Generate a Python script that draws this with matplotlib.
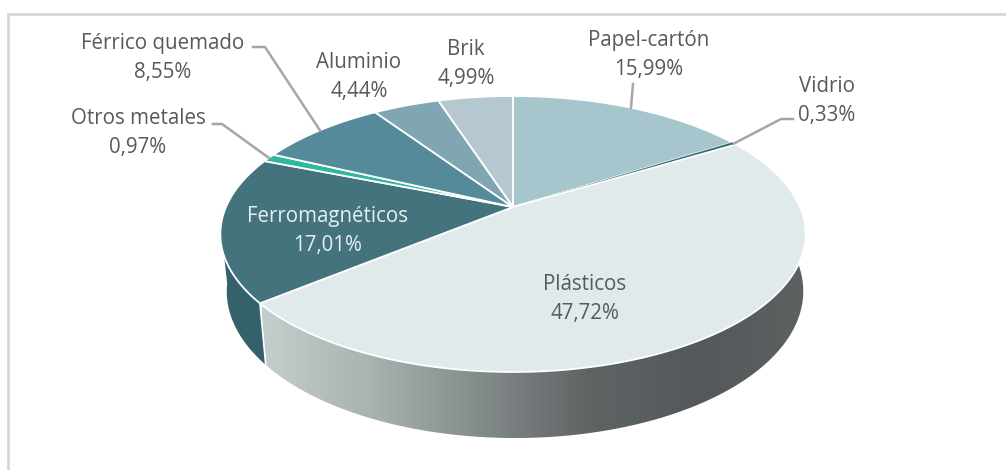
import numpy as np
import matplotlib.pyplot as plt
from matplotlib.colors import LinearSegmentedColormap
from matplotlib.patches import Polygon, Rectangle

# Clockwise from 12 o'clock
labels = ["Papel-cartón", "Vidrio", "Plásticos", "Ferromagnéticos",
          "Otros metales", "Férrico quemado", "Aluminio", "Brik"]
values = [15.99, 0.33, 47.72, 17.01, 0.97, 8.55, 4.44, 4.99]
colors = ["#a7c5cc", "#2f6a70", "#e0eaeb", "#44737e",
          "#2fb8a0", "#548a9a", "#7fa6b2", "#b5c7cf"]

# Label centres in pixels, and the elbow of the leader line if there is one
label_pos = [(649, 55), (827, 101), (585, 299), (328, 231),
             (138, 133), (163, 58), (359, 77), (466, 64)]
elbows = [(633, 84), (781, 119), None, None,
          (222, 124), (265, 47), None, None]
stubs = [0, 12, 0, 0, -9, -12, 0, 0]
text_colors = ["#595959", "#595959", "#595959", "#e6f0f0",
               "#595959", "#595959", "#595959", "#595959"]

wall_stops = ["#c4cecd", "#a8b2b1", "#848b8b", "#5f6465", "#53585a", "#5c6162"]
ferro_wall = "#34626c"

# Perspective disc: apex, radii and foreshortening
CX, CY = 513, 207
A, B, K = 287.0, 132.7, 0.1956
# lower rim of the wall
SX, SY, CY_LOW, DX_LOW = 0.985, 1.064, 262.5, 2

plt.rcParams["font.family"] = ["Open Sans", "DejaVu Sans"]


def rim(angle_deg, sx=1.0, sy=1.0, cy=CY, dx=0):
    t = np.radians(angle_deg)
    u, v = np.sin(t), np.cos(t)
    w = 1 + K * v
    return CX + dx + sx * A * u / w, cy - sy * B * v / w


def arc(a0, a1, **kw):
    angles = np.linspace(a0, a1, max(int(abs(a1 - a0) * 2), 2) + 1)
    return np.column_stack(rim(angles, **kw))


def wall(a0, a1):
    top = arc(a0, a1)
    low = arc(a0, a1, sx=SX, sy=SY, cy=CY_LOW, dx=DX_LOW)
    return np.vstack([top, low[::-1]])


fig = plt.figure(figsize=(10.06, 4.70), dpi=100)
ax = fig.add_axes([0, 0, 1, 1])

# only the top and left of the frame fall inside the picture
ax.add_patch(Rectangle((8, 13.5), 1100, 600, facecolor="white",
                       edgecolor="#d6d6d6", linewidth=2.0))

bounds = np.cumsum([0] + values) * 3.6

# side walls first, the top face covers whatever sticks out behind it
ferro = wall(bounds[3], bounds[4] - 30)
ax.fill(ferro[:, 0], ferro[:, 1], facecolor=ferro_wall, edgecolor="none")

plast = Polygon(wall(bounds[2] + 20, bounds[3]), closed=True, facecolor="none",
                edgecolor="none")
ax.add_patch(plast)
cmap = LinearSegmentedColormap.from_list("wall", wall_stops)
grad = ax.imshow(np.linspace(0, 1, 256)[None, :], cmap=cmap, aspect="auto",
                 extent=(262, 806, 445, 200), zorder=1.5)
grad.set_clip_path(plast)

low_left = rim(bounds[3], sx=SX, sy=SY, cy=CY_LOW, dx=DX_LOW)
top_left = rim(bounds[3])
ax.plot([top_left[0], low_left[0]], [top_left[1], low_left[1]],
        color="white", linewidth=1.2, zorder=1.6)

# top face
for i, color in enumerate(colors):
    pts = arc(bounds[i], bounds[i + 1])
    pts = np.vstack([[CX, CY], pts])
    # the vidrio slice is so thin that a white edge would swallow it
    thin = values[i] < 0.5
    ax.fill(pts[:, 0], pts[:, 1], facecolor=color,
            edgecolor=color if thin else "white",
            linewidth=0.3 if thin else 1.3, joinstyle="round", zorder=2)

# leader lines and labels
for i, name in enumerate(labels):
    text = f"{name}\n{values[i]:.2f}".replace(".", ",") + "%"
    ax.text(label_pos[i][0], label_pos[i][1], text, ha="center", va="center",
            color=text_colors[i], fontsize=14.8, linespacing=1.49, zorder=4)
    if elbows[i] is not None:
        mid = rim((bounds[i] + bounds[i + 1]) / 2)
        ex, ey = elbows[i]
        ax.plot([mid[0], ex, ex + stubs[i]], [mid[1], ey, ey], color="#a6a6a6",
                linewidth=1.8, zorder=3, solid_joinstyle="round")

ax.set_xlim(0, 1006)
ax.set_ylim(470, 0)
ax.axis("off")

fig.savefig("out.png", dpi=100, facecolor="white")
